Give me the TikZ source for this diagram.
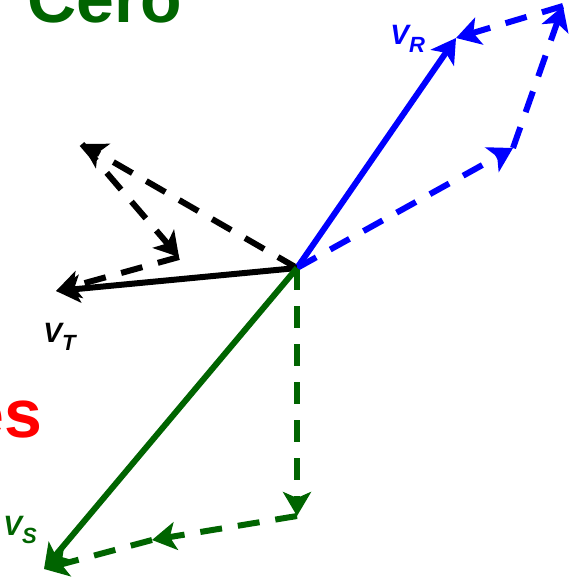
\documentclass[tikz,border=0pt]{standalone}
\usepackage{fontspec}
\setmainfont{Liberation Sans}
\usetikzlibrary{arrows.meta}

\definecolor{verde}{RGB}{0,100,0}

\begin{document}
\begin{tikzpicture}[x=0.5pt, y=-0.5pt, >={Stealth[length=12pt, width=14pt, inset=3pt]}]
    \tikzstyle{fasor} = [->, line width=3pt]
    \tikzstyle{comp} = [->, line width=3pt, dash pattern=on 11pt off 8pt]
    \tikzstyle{etiq} = [anchor=base west, inner sep=0pt, font=\fontsize{14}{16}\selectfont\bfseries\itshape]
    \tikzstyle{titulo} = [inner sep=0pt, font=\fontsize{34}{36}\selectfont\bfseries]

    \useasboundingbox (0,0) rectangle (571,577);
    \clip (0,0) rectangle (571,577);

    % origen y puntas de los fasores
    \coordinate (O) at (297,268);
    \coordinate (r1) at (513,148);
    \coordinate (r2) at (563,6);
    \coordinate (vr) at (456,38);
    \coordinate (t1) at (82,144);
    \coordinate (t2) at (179,257);
    \coordinate (vt) at (56,291);
    \coordinate (s1) at (297,516);
    \coordinate (s2) at (152,540);
    \coordinate (vs) at (44,569);

    \node[titulo, text=verde, anchor=base west] (cero) at (27,23) {Cero};
    \node[titulo, text=red, anchor=base east] (es) at (42.4,437) {es};

    % componentes
    \draw[comp, blue] (O) -- (r1);
    \draw[comp, blue] (r1) -- (r2);
    \draw[comp, blue] (r2) -- (vr);
    \draw[comp, black] (O) -- (t1);
    \draw[comp, black] (t1) -- (t2);
    \draw[comp, black] (t2) -- (vt);
    \draw[comp, verde] (O) -- (s1);
    \draw[comp, verde] (s1) -- (s2);
    \draw[comp, verde] (s2) -- (vs);

    % fasores resultantes
    \draw[fasor, blue] (O) -- (vr);
    \draw[fasor, black] (O) -- (vt);
    \draw[fasor, verde] (O) -- (vs);

    \node[etiq, text=blue] (lr) at (390,45) {V\raisebox{-4pt}{\fontsize{11}{12}\selectfont R}};
    \node[etiq, text=black] (lt) at (43,342) {V\raisebox{-4pt}{\fontsize{11}{12}\selectfont T}};
    \node[etiq, text=verde] (ls) at (3,535) {V\raisebox{-4pt}{\fontsize{11}{12}\selectfont S}};
\end{tikzpicture}
\end{document}
